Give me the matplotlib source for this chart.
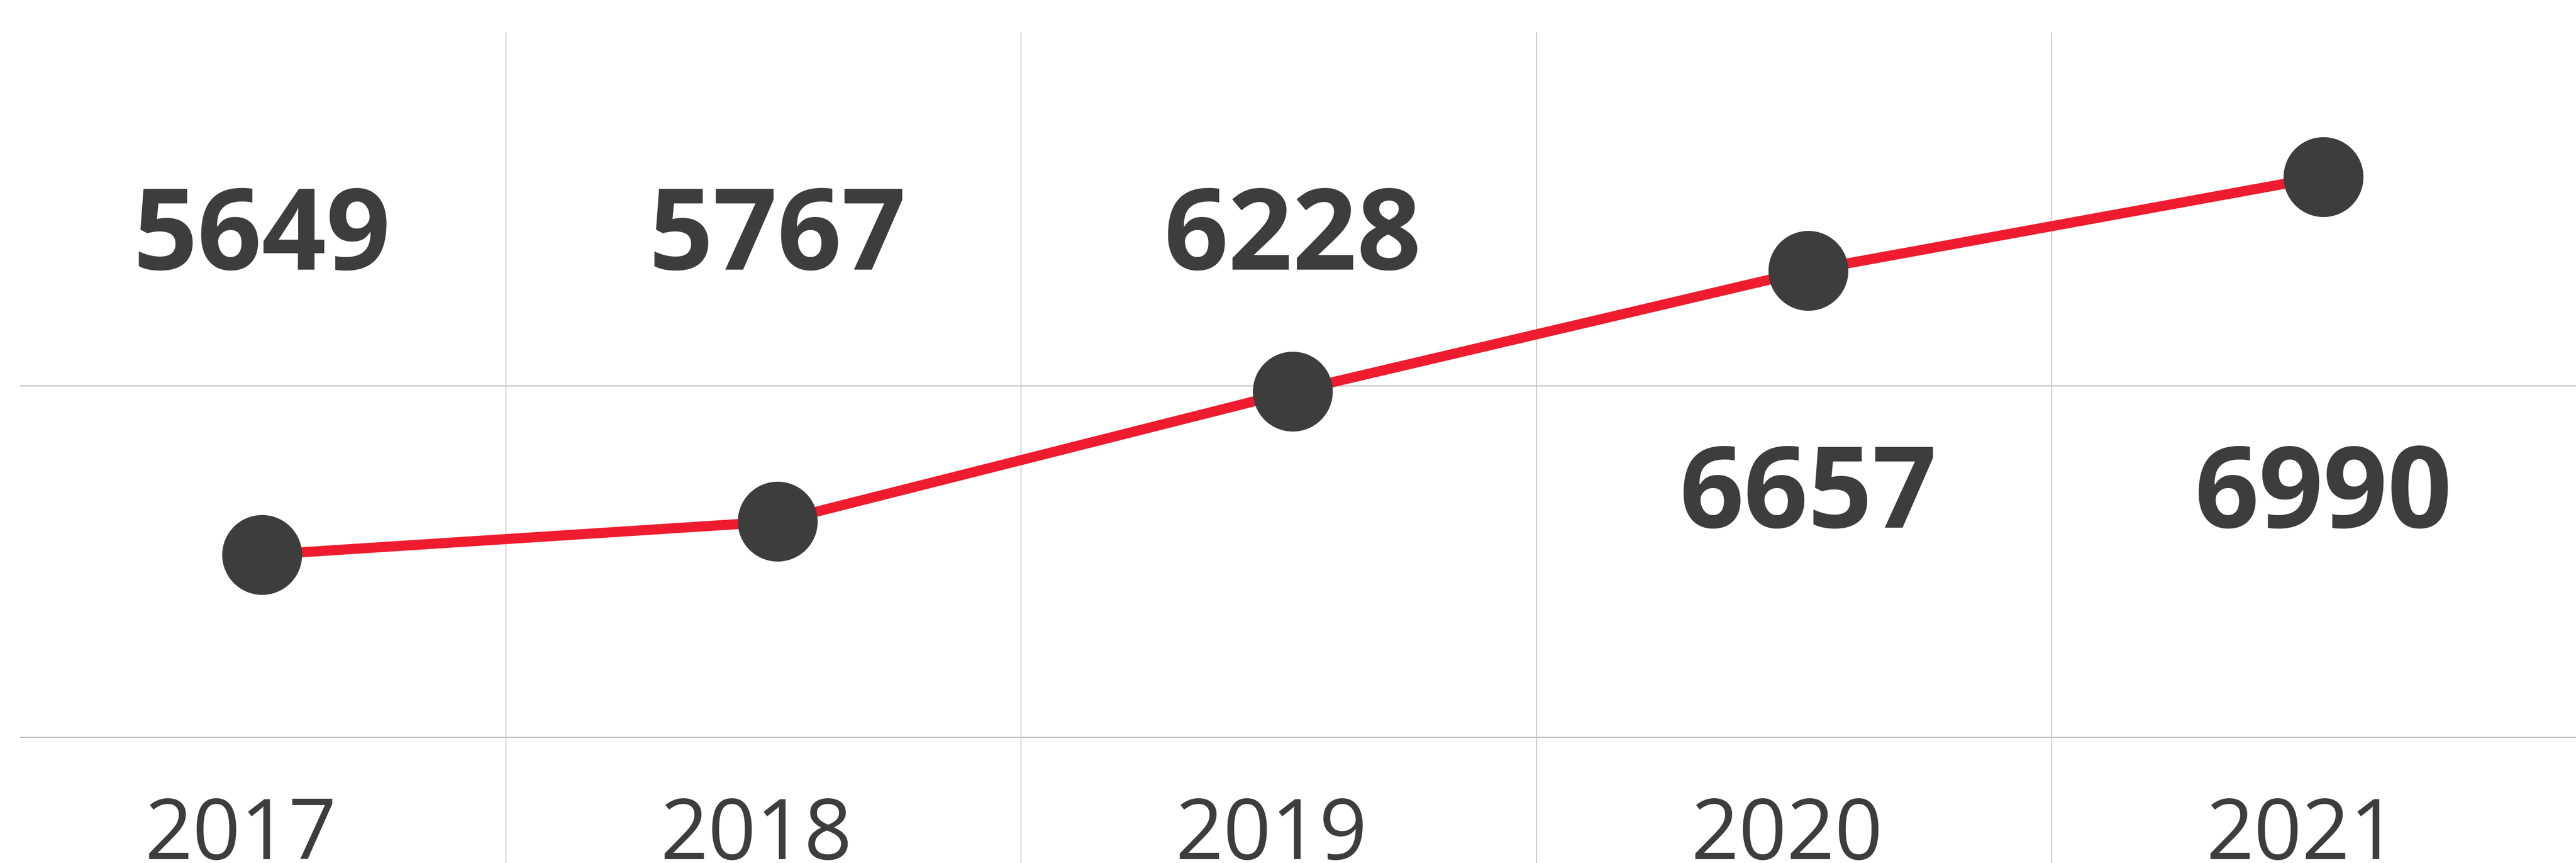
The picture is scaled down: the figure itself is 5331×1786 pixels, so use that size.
import matplotlib.pyplot as plt
import matplotlib.transforms as mtransforms

years = ['2017', '2018', '2019', '2020', '2021']
values = [5649, 5767, 6228, 6657, 6990]

dark = '#3d3d3d'
red = '#ee1c2e'
grid = '#c8c8c8'

plt.rcParams['font.family'] = ['Open Sans', 'DejaVu Sans']

fig = plt.figure(figsize=(53.31, 17.86), dpi=100)
ax = fig.add_axes([41 / 5331, 1 - 1527 / 1786, 1 - 41 / 5331, 1459 / 1786])

x = list(range(len(years)))
ax.set_xlim(-0.47, 4.49)
ax.set_ylim(5000, 7500)

# horizontal reference lines
ax.axhline(5000, color='#c0c0c0', lw=3, zorder=1)
ax.axhline(6250, color=grid, lw=2, zorder=1)

# column separators run down through the year labels
for i in x[:-1]:
    ax.axvline(i + 0.473, ymin=-0.2, ymax=1, color=grid, lw=1.5,
               clip_on=False, zorder=1)

ax.plot(x, values, color=red, lw=15, zorder=2)
ax.plot(x, values, 'o', color=dark, markersize=118, zorder=3)

# value labels: upper half for low points, lower half for high points
trans = mtransforms.blended_transform_factory(ax.transData, ax.transAxes)
for i, v in zip(x, values):
    yf = 0.706 if v < 6250 else 0.34
    ax.text(i, yf, str(v), transform=trans, ha='center', va='center',
            fontsize=168, fontweight='bold', color=dark)

ax.set_xticks(x)
ax.set_xticklabels(years, fontsize=125, color=dark)
ax.tick_params(axis='x', length=0, pad=85)
shift = mtransforms.ScaledTranslation(-0.44, 0, fig.dpi_scale_trans)
for lab in ax.get_xticklabels():
    lab.set_transform(lab.get_transform() + shift)
ax.set_yticks([])
for s in ax.spines.values():
    s.set_visible(False)

fig.savefig('out.png', dpi=100, facecolor='white')
